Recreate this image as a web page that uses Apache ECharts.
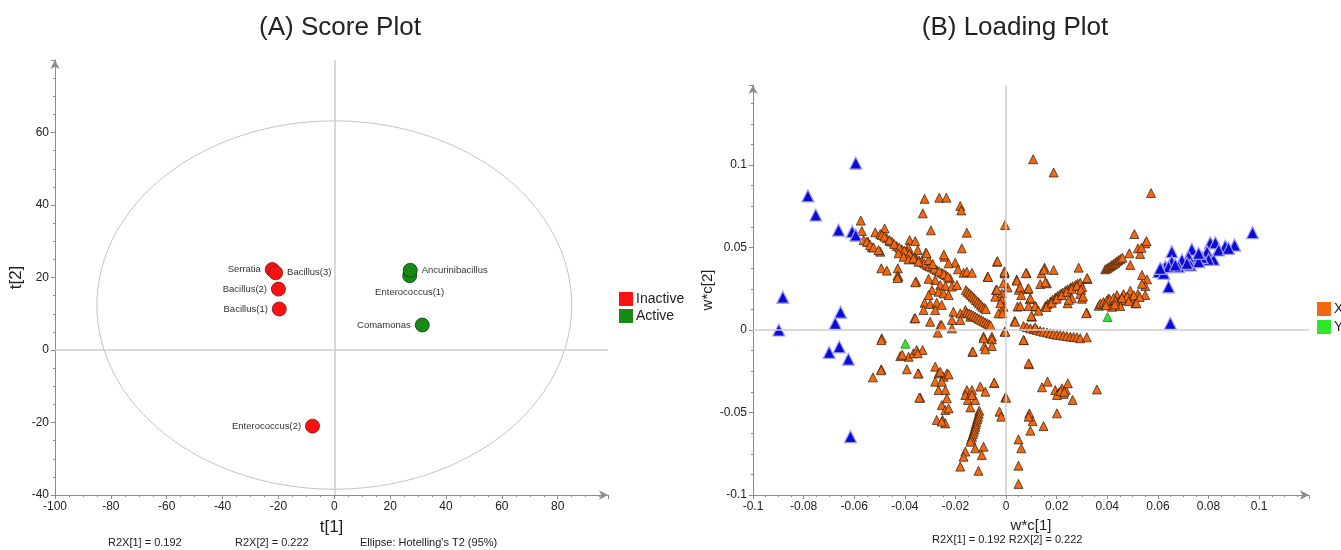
<!DOCTYPE html>
<html>
<head>
<meta charset="utf-8">
<script src="https://cdn.jsdelivr.net/npm/echarts@6/dist/echarts.min.js"></script>
<style>
  html, body { margin: 0; padding: 0; background: #fff; }
  #chart { width: 1341px; height: 550px; }
</style>
</head>
<body>
<div id="chart"></div>
<script>
// ---- score plot (A) ----
var inactiveNames = ['Serratia', 'Bacillus(3)', 'Bacillus(2)', 'Bacillus(1)', 'Enterococcus(2)'];
var inactiveT1 = [-22.2, -21.0, -20.0, -19.7, -7.8];
var inactiveT2 = [22.2, 21.3, 16.8, 11.3, -21.0];

var activeNames = ['Enterococcus(1)', 'Ancurinibacillus', 'Comamonas'];
var activeT1 = [27.0, 27.2, 31.5];
var activeT2 = [20.5, 22.0, 6.9];

// Hotelling T2 (95%) ellipse: centre t1, centre t2, radius t1, radius t2
var hotelling = [0, 12.4, 85, 50.8];

var scoreXTicks = [-100, 98, 20];
var scoreYTicks = [-40, 80, 20];

// ---- loading plot (B) ----
var loadingX = [
  [0.0107,0.1035],[0.0188,0.0955],[0.0573,0.0830],[-0.0004,0.0636],
  [-0.0322,0.0795],[-0.0264,0.0802],[-0.0236,0.0802],[-0.0181,0.0752],[-0.0177,0.0725],[-0.0329,0.0707],
  [-0.0574,0.0663],[-0.0297,0.0604],[-0.0155,0.0590],[-0.0570,0.0600],[-0.0517,0.0592],[-0.0480,0.0616],
  [-0.0497,0.0582],[-0.0460,0.0541],[-0.0381,0.0545],[-0.0359,0.0539],[-0.0175,0.0495],[-0.0387,0.0501],
  [-0.0349,0.0485],[-0.0317,0.0469],[-0.0497,0.0475],[-0.0530,0.0501],[-0.0546,0.0535],[-0.0563,0.0545],
  [-0.0491,0.0576],[-0.0471,0.0556],[-0.0451,0.0535],[-0.0432,0.0509],[-0.0412,0.0489],[-0.0392,0.0475],
  [-0.0372,0.0448],[-0.0353,0.0428],[-0.0333,0.0414],[-0.0313,0.0394],[-0.0293,0.0380],[-0.0274,0.0364],
  [-0.0254,0.0347],[-0.0238,0.0333],[-0.0221,0.0313],[-0.0481,0.0566],[-0.0461,0.0545],[-0.0442,0.0522],
  [-0.0422,0.0499],[-0.0402,0.0482],[-0.0382,0.0461],[-0.0362,0.0438],[-0.0343,0.0421],[-0.0323,0.0404],
  [-0.0303,0.0387],[-0.0284,0.0372],[-0.0264,0.0356],[-0.0246,0.0340],[-0.0230,0.0323],
  [-0.0550,0.0535],[-0.0537,0.0515],[-0.0524,0.0501],[-0.0504,0.0485],[-0.0425,0.0465],[-0.0405,0.0444],
  [-0.0385,0.0428],[-0.0366,0.0434],[-0.0346,0.0414],[-0.0493,0.0374],[-0.0471,0.0360],[-0.0428,0.0374],
  [-0.0425,0.0323],[-0.0355,0.0293],[-0.0306,0.0424],[-0.0290,0.0400],[-0.0314,0.0465],[-0.0243,0.0444],
  [-0.0201,0.0408],[-0.0227,0.0404],[-0.0190,0.0368],[-0.0168,0.0347],[-0.0155,0.0353],[-0.0135,0.0347],
  [-0.0073,0.0323],[-0.0036,0.0414],[-0.0006,0.0343],[-0.0280,0.0303],[-0.0260,0.0273],[-0.0240,0.0267],
  [-0.0214,0.0263],[-0.0194,0.0273],[-0.0293,0.0242],[-0.0267,0.0232],[-0.0247,0.0222],[-0.0227,0.0212],
  [-0.0306,0.0212],[-0.0322,0.0165],[-0.0300,0.0158],[-0.0274,0.0165],[-0.0254,0.0152],[-0.0280,0.0121],
  [-0.0326,0.0121],[-0.0362,0.0071],[-0.0300,0.0050],[-0.0260,0.0030],[-0.0270,-0.0016],[-0.0208,0.0111],
  [-0.0181,0.0101],[-0.0161,0.0121],[-0.0181,0.0061],[-0.0141,0.0081],[-0.0214,0.0061],[-0.0043,0.0202],
  [-0.0017,0.0222],[-0.0040,0.0242],[-0.0017,0.0182],[-0.0010,0.0141],[-0.0030,0.0101],[-0.0006,-0.0010],
  [-0.0089,-0.0040],[-0.0056,-0.0040],[-0.0491,-0.0050],[-0.0246,0.0457],[-0.0429,0.0330],[-0.0429,0.0315],
  [-0.0359,0.0289],[-0.0306,0.0310],[-0.0359,0.0071],
  [-0.0159,0.0242],[-0.0152,0.0232],[-0.0145,0.0222],[-0.0138,0.0212],[-0.0132,0.0202],[-0.0125,0.0192],
  [-0.0119,0.0182],[-0.0112,0.0172],[-0.0106,0.0162],[-0.0099,0.0152],[-0.0093,0.0141],[-0.0086,0.0134],
  [-0.0080,0.0127],
  [-0.0155,0.0105],[-0.0146,0.0100],[-0.0138,0.0095],[-0.0130,0.0088],[-0.0122,0.0081],[-0.0114,0.0074],
  [-0.0106,0.0067],[-0.0098,0.0060],[-0.0090,0.0053],[-0.0082,0.0046],[-0.0074,0.0040],[-0.0067,0.0034],
  [-0.0061,0.0028],
  [-0.0034,0.0417],[-0.0071,0.0321],[-0.0006,0.0356],[0.0042,0.0305],[0.0081,0.0346],[0.0006,0.0258],
  [-0.0036,0.0244],[0.0050,0.0244],[0.0086,0.0248],[0.0094,0.0187],[0.0118,0.0142],[0.0045,0.0142],
  [0.0102,0.0081],[0.0070,-0.0061],[-0.0003,-0.0010],[-0.0086,-0.0098],[0.0091,-0.0207],[-0.0133,-0.0132],
  [-0.0047,-0.0321],
  [0.0507,0.0582],[0.0550,0.0525],[0.0521,0.0495],[0.0530,0.0461],[0.0487,0.0465],[0.0491,0.0394],
  [0.0535,0.0498],[0.0555,0.0539],
  [0.0392,0.0368],[0.0399,0.0374],[0.0405,0.0380],[0.0412,0.0387],[0.0418,0.0394],[0.0425,0.0401],
  [0.0432,0.0408],[0.0438,0.0416],[0.0445,0.0424],[0.0452,0.0431],[0.0460,0.0438],
  [0.0537,0.0333],[0.0557,0.0307],[0.0550,0.0267],[0.0537,0.0280],[0.0550,0.0212],
  [0.0366,0.0147],[0.0379,0.0156],[0.0392,0.0162],[0.0405,0.0192],[0.0418,0.0165],[0.0438,0.0212],
  [0.0445,0.0172],[0.0464,0.0218],[0.0471,0.0182],[0.0491,0.0238],[0.0497,0.0192],[0.0511,0.0162],
  [0.0521,0.0218],[0.0418,0.0141],[0.0451,0.0145],[0.0478,0.0202],[0.0372,0.0160],[0.0385,0.0170],
  [0.0398,0.0178],[0.0410,0.0185],[0.0425,0.0195],[0.0432,0.0178],[0.0458,0.0195],[0.0485,0.0175],
  [0.0505,0.0210],[0.0528,0.0200],[0.0395,0.0150],[0.0430,0.0155],[0.0319,0.0105],[0.0515,0.0163],
  [0.0155,0.0145],[0.0164,0.0158],[0.0175,0.0172],[0.0184,0.0184],[0.0194,0.0196],[0.0204,0.0208],
  [0.0214,0.0218],[0.0223,0.0228],[0.0234,0.0238],[0.0243,0.0247],[0.0254,0.0257],[0.0263,0.0265],
  [0.0274,0.0273],[0.0283,0.0281],[0.0293,0.0287],[0.0160,0.0140],[0.0180,0.0165],[0.0200,0.0190],
  [0.0220,0.0212],[0.0240,0.0232],[0.0260,0.0250],[0.0280,0.0268],
  [0.0322,0.0309],[0.0287,0.0378],[0.0293,0.0218],[0.0300,0.0190],[0.0301,0.0260],[0.0243,0.0162],
  [0.0260,0.0192],[0.0188,0.0364],[0.0152,0.0378],[0.0140,0.0344],[0.0135,0.0279],[0.0161,0.0283],
  [0.0078,0.0344],[0.0043,0.0299],[0.0056,0.0259],[0.0089,0.0253],[0.0060,0.0212],[0.0096,0.0192],
  [0.0056,0.0145],[0.0089,0.0145],[0.0115,0.0145],[0.0128,0.0117],[0.0100,0.0085],[0.0034,0.0055],
  [-0.0006,0.0350],[-0.0010,0.0283],[-0.0023,0.0162],[-0.0014,0.0101],
  [0.0320,0.0315],[0.0296,0.0244],[0.0304,0.0203],[0.0248,0.0183],[0.0317,0.0102],[0.0150,0.0366],
  [0.0155,0.0289],
  [0.0069,0.0024],[0.0082,0.0017],[0.0096,0.0010],[0.0109,0.0005],[0.0122,0.0000],[0.0135,-0.0005],
  [0.0148,-0.0010],[0.0162,-0.0015],[0.0175,-0.0020],[0.0188,-0.0024],[0.0201,-0.0028],[0.0214,-0.0031],
  [0.0227,-0.0034],[0.0240,-0.0037],[0.0254,-0.0040],[0.0267,-0.0042],[0.0280,-0.0044],[0.0293,-0.0050],
  [0.0319,-0.0044],[0.0036,0.0050],[0.0115,0.0016],
  [-0.0493,-0.0061],[-0.0418,-0.0158],[-0.0385,-0.0162],[-0.0366,-0.0141],[-0.0353,-0.0121],[-0.0330,-0.0121],
  [-0.0349,-0.0141],[-0.0410,-0.0150],[-0.0493,-0.0238],[-0.0392,-0.0238],[-0.0346,-0.0263],[-0.0526,-0.0287],
  [-0.0339,-0.0410],[-0.0280,-0.0222],[-0.0267,-0.0263],[-0.0247,-0.0283],[-0.0234,-0.0263],[-0.0280,-0.0313],
  [-0.0267,-0.0364],[-0.0240,-0.0364],[-0.0254,-0.0455],[-0.0240,-0.0485],[-0.0274,-0.0545],[-0.0251,-0.0545],
  [-0.0240,-0.0566],[-0.0260,-0.0253],[-0.0227,-0.0269],[-0.0254,-0.0313],[-0.0234,-0.0414],[-0.0227,-0.0475],
  [-0.0254,-0.0555],[-0.0494,-0.0244],[-0.0343,-0.0410],[-0.0348,-0.0264],
  [-0.0254,0.0030],[-0.0214,0.0010],[-0.0089,-0.0050],[-0.0056,-0.0057],[-0.0056,-0.0097],[-0.0082,-0.0117],
  [-0.0131,-0.0131],[0.0069,-0.0061],[0.0089,-0.0202],[-0.0155,-0.0364],[-0.0135,-0.0364],[-0.0102,-0.0343],
  [-0.0082,-0.0374],[-0.0047,-0.0319],[-0.0161,-0.0394],[-0.0151,-0.0424],[-0.0122,-0.0424],[-0.0135,-0.0394],
  [-0.0141,-0.0469],[-0.0003,-0.0408],[-0.0026,-0.0495],[-0.0019,-0.0525],[0.0000,-0.0410],
  [-0.0106,-0.0489],[-0.0108,-0.0507],[-0.0111,-0.0525],[-0.0114,-0.0540],[-0.0117,-0.0556],[-0.0120,-0.0571],
  [-0.0122,-0.0586],[-0.0125,-0.0601],[-0.0128,-0.0616],[-0.0131,-0.0632],[-0.0135,-0.0647],[-0.0138,-0.0662],
  [-0.0141,-0.0677],
  [-0.0122,-0.0717],[-0.0089,-0.0707],[-0.0161,-0.0737],[-0.0168,-0.0768],[-0.0096,-0.0758],[-0.0181,-0.0828],
  [-0.0109,-0.0853],[0.0049,-0.0663],[0.0060,-0.0717],[0.0049,-0.0822],[0.0049,-0.0933],[0.0092,-0.0505],
  [0.0105,-0.0552],[0.0089,-0.0525],[0.0096,-0.0610],[0.0148,-0.0582],[0.0201,-0.0505],[0.0142,-0.0347],
  [0.0164,-0.0313],[0.0194,-0.0364],[0.0208,-0.0380],[0.0221,-0.0353],[0.0227,-0.0388],[0.0236,-0.0364],
  [0.0244,-0.0323],[0.0263,-0.0424],[0.0201,-0.0394],[0.0215,-0.0370],[0.0230,-0.0375],[0.0359,-0.0360]
];

var loadingXHighlight = [
  [-0.0594,0.1012],[-0.0783,0.0813],[-0.0752,0.0697],[-0.0662,0.0606],[-0.0608,0.0596],[-0.0594,0.0575],
  [-0.0882,0.0199],[-0.0898,0.0000],[-0.0654,0.0108],[-0.0675,0.0041],[-0.0659,-0.0102],[-0.0699,-0.0136],
  [-0.0623,-0.0177],[-0.0615,-0.0646],
  [0.0974,0.0590],[0.0649,0.0041],[0.0642,0.0262],
  [0.0655,0.0475],[0.0734,0.0489],[0.0807,0.0529],[0.0827,0.0529],[0.0866,0.0509],[0.0903,0.0515],
  [0.0794,0.0475],[0.0820,0.0428],[0.0800,0.0428],[0.0774,0.0440],[0.0748,0.0428],[0.0721,0.0444],
  [0.0695,0.0424],[0.0682,0.0384],[0.0655,0.0414],[0.0629,0.0384],[0.0616,0.0364],[0.0603,0.0353],
  [0.0623,0.0344],[0.0728,0.0394],[0.0761,0.0414],[0.0642,0.0384],[0.0840,0.0485],[0.0879,0.0495],
  [0.0761,0.0465],[0.0715,0.0404],[0.0669,0.0394],[0.0609,0.0374]
];

var loadingY = [[-0.0398,-0.0083],[0.0401,0.0079]];

var loadXTicks = [-0.1, 0.1197, 0.02];
var loadYTicks = [-0.1, 0.1485, 0.05];

var FONT = 'Liberation Sans, Arial, sans-serif';
var AXIS_GREY = '#8c8c8c';
var CROSS_GREY = '#cdcdcd';

function makeAxis(gridIndex, ticks, name, gap, extra) {
  var a = {
    type: 'value',
    gridIndex: gridIndex,
    min: ticks[0],
    max: ticks[1],
    interval: ticks[2],
    name: name,
    nameLocation: 'middle',
    nameGap: gap,
    nameTextStyle: { fontFamily: FONT, fontSize: 16, color: '#222' },
    axisLine: { show: true, onZero: false, symbol: ['none', 'arrow'], symbolSize: [7, 9], lineStyle: { color: AXIS_GREY, width: 1 } },
    axisTick: { show: true, length: 4, lineStyle: { color: AXIS_GREY } },
    minorTick: { show: true, splitNumber: 4, length: 2, lineStyle: { color: AXIS_GREY } },
    axisLabel: { fontFamily: FONT, fontSize: 12, color: '#222', showMaxLabel: false, margin: 6 },
    splitLine: { show: false }
  };
  for (var k in extra) a[k] = extra[k];
  return a;
}

// label side for each named score point (default left)
var labelSide = { 'Bacillus(3)': 'right', 'Ancurinibacillus': 'right', 'Enterococcus(1)': 'bottom' };

function scorePoints(names, t1, t2) {
  return names.map(function (n, i) {
    var side = labelSide[n] || 'left';
    return {
      name: n,
      value: [t1[i], t2[i]],
      label: { position: side, distance: side === 'bottom' ? 4 : 4 }
    };
  });
}

var crossLines = {
  silent: true,
  symbol: 'none',
  label: { show: false },
  lineStyle: { color: CROSS_GREY, width: 1.5, type: 'solid' },
  data: [{ xAxis: 0 }, { yAxis: 0 }]
};

var chart = echarts.init(document.getElementById('chart'), null, { renderer: 'canvas' });

var option = {
  backgroundColor: '#fff',
  animation: false,
  textStyle: { fontFamily: FONT },
  title: [
    { text: '(A) Score Plot', left: 335, top: 10, textAlign: 'center',
      textStyle: { fontFamily: FONT, fontSize: 26, fontWeight: 'normal', color: '#222' } },
    { text: '(B) Loading Plot', left: 1010, top: 10, textAlign: 'center',
      textStyle: { fontFamily: FONT, fontSize: 26, fontWeight: 'normal', color: '#222' } }
  ],
  legend: [
    { data: ['Inactive', 'Active'], left: 614, top: 287, orient: 'vertical', icon: 'rect',
      itemWidth: 14, itemHeight: 14, itemGap: 3, selectedMode: false,
      itemStyle: { borderWidth: 0 },
      textStyle: { fontFamily: FONT, fontSize: 14, color: '#222', padding: [0, 0, 0, -2] } },
    { data: ['X', 'Y'], left: 1312, top: 297, orient: 'vertical', icon: 'rect',
      itemWidth: 14, itemHeight: 14, itemGap: 4, selectedMode: false,
      itemStyle: { borderWidth: 0 },
      textStyle: { fontFamily: FONT, fontSize: 14, color: '#222', padding: [0, 0, 0, -2] } }
  ],
  grid: [
    { left: 55, top: 60, width: 553, height: 435 },
    { left: 753, top: 85, width: 556, height: 410 }
  ],
  xAxis: [
    makeAxis(0, scoreXTicks, 't[1]', 24, { nameTextStyle: { fontFamily: FONT, fontSize: 17, color: '#222' } }),
    makeAxis(1, loadXTicks, 'w*c[1]', 23, { nameTextStyle: { fontFamily: FONT, fontSize: 15, color: '#222' } })
  ],
  yAxis: [
    makeAxis(0, scoreYTicks, 't[2]', 30, { nameTextStyle: { fontFamily: FONT, fontSize: 17, color: '#222' } }),
    makeAxis(1, loadYTicks, 'w*c[2]', 34, { nameTextStyle: { fontFamily: FONT, fontSize: 15, color: '#222' } })
  ],
  graphic: [
    { type: 'text', left: 108, top: 537, style: { text: 'R2X[1] = 0.192', font: '11px ' + FONT, fill: '#222' } },
    { type: 'text', left: 235, top: 537, style: { text: 'R2X[2] = 0.222', font: '11px ' + FONT, fill: '#222' } },
    { type: 'text', left: 360, top: 537, style: { text: "Ellipse: Hotelling's T2 (95%)", font: '11px ' + FONT, fill: '#222' } },
    { type: 'text', left: 932, top: 534, style: { text: 'R2X[1] = 0.192 R2X[2] = 0.222', font: '11px ' + FONT, fill: '#222' } }
  ],
  series: [
    {
      name: 'axesA', type: 'scatter', xAxisIndex: 0, yAxisIndex: 0, data: [], z: 1,
      markLine: crossLines
    },
    {
      name: 'ellipse', type: 'custom', xAxisIndex: 0, yAxisIndex: 0, z: 2, silent: true,
      data: [hotelling],
      renderItem: function (params, api) {
        var cx = api.value(0), cy = api.value(1), rx = api.value(2), ry = api.value(3);
        var pts = [];
        for (var i = 0; i <= 180; i++) {
          var a = i / 180 * Math.PI * 2;
          pts.push(api.coord([cx + rx * Math.cos(a), cy + ry * Math.sin(a)]));
        }
        return { type: 'polyline', shape: { points: pts }, style: { stroke: '#c4c4c4', lineWidth: 1, fill: null } };
      }
    },
    {
      name: 'Inactive', type: 'scatter', xAxisIndex: 0, yAxisIndex: 0, z: 3,
      symbol: 'circle', symbolSize: 14,
      itemStyle: { color: '#ff1010', borderColor: '#7a1010', borderWidth: 0.8, opacity: 1 },
      label: { show: true, formatter: '{b}', fontFamily: FONT, fontSize: 9.5, color: '#333' },
      data: scorePoints(inactiveNames, inactiveT1, inactiveT2)
    },
    {
      name: 'Active', type: 'scatter', xAxisIndex: 0, yAxisIndex: 0, z: 3,
      symbol: 'circle', symbolSize: 14,
      itemStyle: { color: '#158a15', borderColor: '#0c3c0c', borderWidth: 0.8, opacity: 1 },
      label: { show: true, formatter: '{b}', fontFamily: FONT, fontSize: 9.5, color: '#333' },
      data: scorePoints(activeNames, activeT1, activeT2)
    },
    {
      name: 'axesB', type: 'scatter', xAxisIndex: 1, yAxisIndex: 1, data: [], z: 1,
      markLine: crossLines
    },
    {
      name: 'X', type: 'scatter', xAxisIndex: 1, yAxisIndex: 1, z: 3,
      symbol: 'triangle', symbolSize: 9,
      itemStyle: { color: '#f3680f', borderColor: '#2a1a10', borderWidth: 0.7, opacity: 1 },
      data: loadingX
    },
    {
      name: 'X highlighted', type: 'scatter', xAxisIndex: 1, yAxisIndex: 1, z: 4,
      symbol: 'triangle', symbolSize: 12,
      itemStyle: { color: '#0b0bd6', borderColor: '#9d9dff', borderWidth: 1.2, opacity: 1 },
      data: loadingXHighlight
    },
    {
      name: 'Y', type: 'scatter', xAxisIndex: 1, yAxisIndex: 1, z: 5,
      symbol: 'triangle', symbolSize: 9,
      itemStyle: { color: '#2ee62e', borderColor: '#1d6b1d', borderWidth: 0.7, opacity: 1 },
      data: loadingY
    }
  ]
};

chart.setOption(option);
</script>
</body>
</html>
